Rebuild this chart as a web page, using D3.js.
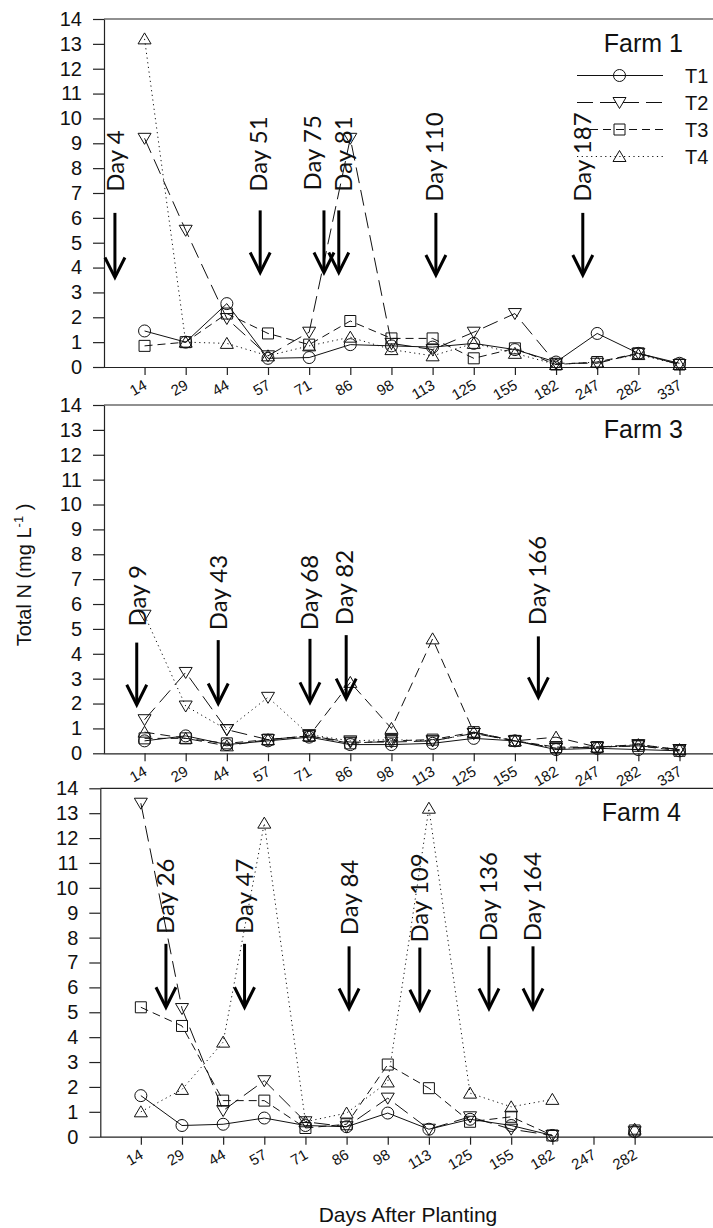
<!DOCTYPE html>
<html>
<head>
<meta charset="utf-8">
<script src="https://cdn.jsdelivr.net/npm/d3@7"></script>
<style>
  body { margin: 0; background: #fff; }
  svg { display: block; }
  text { fill: #111; }
</style>
</head>
<body>
<div id="chart"></div>
<script>
// Size of the whole figure
var svgWidth = 713;
var svgHeight = 1228;

// Categories (days after planting) and y tick labels
var days = ["14", "29", "44", "57", "71", "86", "98", "113", "125", "155", "182", "247", "282", "337"];
var daysFarm4 = ["14", "29", "44", "57", "71", "86", "98", "113", "125", "155", "182", "247", "282"];
var yTicks = [0, 1, 2, 3, 4, 5, 6, 7, 8, 9, 10, 11, 12, 13, 14];

// Farm 1 values (mg/L)
var farm1T1 = [1.45, 1.0, 2.55, 0.35, 0.38, 0.9, 0.85, 0.8, 0.95, 0.7, 0.2, 1.35, 0.55, 0.15];
var farm1T2 = [9.2, 5.5, 1.95, 0.45, 1.4, 9.2, 0.95, 0.7, 1.4, 2.15, 0.15, 0.15, 0.55, 0.1];
var farm1T3 = [0.85, 1.0, 2.15, 1.35, 0.9, 1.85, 1.15, 1.15, 0.35, 0.75, 0.1, 0.2, 0.55, 0.1];
var farm1T4 = [13.2, 1.0, 0.95, 0.45, 0.85, 1.2, 0.7, 0.45, 0.95, 0.55, 0.1, 0.2, 0.5, 0.1];

// Farm 3 values (the plot shows an extra dotted series drawn with down triangles)
var farm3T1 = [0.5, 0.7, 0.35, 0.5, 0.65, 0.35, 0.35, 0.4, 0.6, 0.5, 0.15, 0.2, 0.15, 0.1];
var farm3T2 = [1.35, 3.25, 0.95, 0.55, 0.7, 0.45, 0.45, 0.5, 0.8, 0.5, 0.2, 0.25, 0.3, 0.15];
var farm3T3 = [0.6, 0.6, 0.4, 0.55, 0.7, 0.4, 0.5, 0.55, 0.85, 0.5, 0.25, 0.25, 0.3, 0.1];
var farm3T4 = [0.85, 0.6, 0.3, 0.55, 0.7, 2.85, 1.0, 4.6, 0.85, 0.5, 0.65, 0.25, 0.35, 0.15];
var farm3Extra = [5.55, 1.9, 0.95, 2.25, 0.75, 0.5, 0.55, 0.5, 0.8, 0.5, 0.2, 0.25, 0.35, 0.15];

// Farm 4 values (no sample on day 247)
var farm4T1 = [1.65, 0.45, 0.5, 0.75, 0.45, 0.4, 0.95, 0.3, 0.7, 0.45, 0.05, null, 0.2];
var farm4T2 = [13.4, 5.15, 1.05, 2.25, 0.6, 0.4, 1.55, 0.3, 0.8, 0.3, 0.05, null, 0.2];
var farm4T3 = [5.2, 4.45, 1.45, 1.45, 0.35, 0.5, 2.9, 1.95, 0.6, 0.8, 0.05, null, 0.25];
var farm4T4 = [1.0, 1.9, 3.8, 12.6, 0.6, 0.95, 2.2, 13.2, 1.75, 1.2, 1.5, null, 0.3];

// Arrow annotations: label, arrow position (category units), arrow top, tip,
// label position (category units) and label start value
var farm1Arrows = ["Day 4", "Day 51", "Day 75", "Day 81", "Day 110", "Day 187"];
var farm1ArrowAt = [-0.72, 2.81, 4.36, 4.72, 7.08, 10.65];
var farm1ArrowTop = [6.2, 6.3, 6.3, 6.3, 6.2, 6.2];
var farm1ArrowTip = [3.6, 3.8, 3.8, 3.8, 3.7, 3.7];
var farm1LabelAt = [-0.7, 2.77, 4.09, 4.84, 7.06, 10.65];
var farm1LabelBase = [7.05, 7.05, 7.1, 7.05, 6.65, 6.65];

var farm3Arrows = ["Day 9", "Day 43", "Day 68", "Day 82", "Day 166"];
var farm3ArrowAt = [-0.19, 1.79, 4.02, 4.9, 9.57];
var farm3ArrowTop = [4.45, 4.55, 4.6, 4.75, 4.7];
var farm3ArrowTip = [1.95, 2.0, 2.05, 2.2, 2.25];
var farm3LabelAt = [-0.18, 1.80, 4.0, 4.87, 9.56];
var farm3LabelBase = [5.1, 4.95, 4.95, 5.15, 5.15];

var farm4Arrows = ["Day 26", "Day 47", "Day 84", "Day 109", "Day 136", "Day 164"];
var farm4ArrowAt = [0.61, 2.52, 5.06, 6.78, 8.46, 9.53];
var farm4ArrowTop = [7.75, 7.75, 7.65, 7.6, 7.65, 7.65];
var farm4ArrowTip = [5.2, 5.2, 5.15, 5.1, 5.15, 5.15];
var farm4LabelAt = [0.61, 2.52, 5.07, 6.78, 8.46, 9.53];
var farm4LabelBase = [8.15, 8.15, 8.1, 7.8, 7.85, 7.85];

// Series styles
var legendNames = ["T1", "T2", "T3", "T4"];
var styles = {
  T1: { shape: "circle", dash: null },
  T2: { shape: "down", dash: "16,7" },
  T3: { shape: "square", dash: "8,5" },
  T4: { shape: "up", dash: "1.2,3.5" },
  T4b: { shape: "up", dash: "10,6" },
  X: { shape: "down", dash: "1.2,3.5" }
};

var panels = [
  { label: "Farm 1", cats: days, left: 104, top: 19, bottom: 367, labelX: 683, legend: true,
    series: [["T1", farm1T1], ["T2", farm1T2], ["T3", farm1T3], ["T4", farm1T4]],
    arrows: [farm1Arrows, farm1ArrowAt, farm1ArrowTop, farm1ArrowTip, farm1LabelAt, farm1LabelBase] },
  { label: "Farm 3", cats: days, left: 104, top: 405, bottom: 753.3, labelX: 683, legend: false,
    series: [["T1", farm3T1], ["T2", farm3T2], ["T3", farm3T3], ["T4b", farm3T4], ["X", farm3Extra]],
    arrows: [farm3Arrows, farm3ArrowAt, farm3ArrowTop, farm3ArrowTip, farm3LabelAt, farm3LabelBase] },
  { label: "Farm 4", cats: daysFarm4, left: 100.3, top: 788.3, bottom: 1136.7, labelX: 681, legend: false,
    series: [["T1", farm4T1], ["T2", farm4T2], ["T3", farm4T3], ["T4", farm4T4]],
    arrows: [farm4Arrows, farm4ArrowAt, farm4ArrowTop, farm4ArrowTip, farm4LabelAt, farm4LabelBase] }
];

var step = 41.15;

function shapePath(shape) {
  if (shape === "circle") return "M6,0A6,6 0 1,1 -6,0A6,6 0 1,1 6,0Z";
  if (shape === "square") return "M-5.5,-5.5H5.5V5.5H-5.5Z";
  if (shape === "up") return "M0,-6L6.5,5H-6.5Z";
  return "M0,6L6.5,-5H-6.5Z";
}

var svg = d3.select("#chart")
  .append("svg")
  .attr("width", svgWidth)
  .attr("height", svgHeight);

panels.forEach(function(p) {
  var x = d3.scaleLinear().domain([-1, 14]).range([p.left - 0.6, p.left - 0.6 + 15 * step]);
  var y = d3.scaleLinear().domain([0, 14]).range([p.bottom, p.top]);
  var g = svg.append("g");

  // top border
  g.append("line")
    .attr("x1", p.left).attr("x2", svgWidth + 5)
    .attr("y1", p.top).attr("y2", p.top)
    .attr("stroke", "#222").attr("stroke-width", 1.2);

  // y axis
  var yAxis = g.append("g")
    .attr("transform", `translate(${p.left},0)`)
    .call(d3.axisLeft(y).tickValues(yTicks).tickSize(11).tickPadding(11).tickSizeOuter(0));
  yAxis.select(".domain").attr("stroke", "#222").attr("stroke-width", 1.2);
  yAxis.selectAll(".tick line").attr("stroke", "#222").attr("stroke-width", 1.2);
  yAxis.selectAll("text")
    .attr("font-family", "Arial, 'Liberation Sans', sans-serif")
    .attr("font-size", 20)
    .attr("fill", "#111");

  // x axis
  var xAxis = g.append("g")
    .attr("transform", `translate(0,${p.bottom})`)
    .call(d3.axisBottom(x)
      .tickValues(d3.range(p.cats.length))
      .tickFormat(function(i) { return p.cats[i]; })
      .tickSize(8).tickSizeOuter(0));
  xAxis.select(".domain").attr("stroke", "#222").attr("stroke-width", 1.2);
  xAxis.selectAll(".tick line").attr("stroke", "#222").attr("stroke-width", 1.2);
  xAxis.selectAll("text")
    .attr("font-family", "Arial, 'Liberation Sans', sans-serif")
    .attr("font-size", 15)
    .attr("fill", "#1a1a2a")
    .attr("x", 3).attr("y", 21).attr("dy", null)
    .attr("text-anchor", "end")
    .attr("transform", "rotate(-30,3,21)");

  // series
  p.series.forEach(function(s) {
    var st = styles[s[0]];
    var vals = s[1];
    var line = d3.line()
      .defined(function(d) { return d != null; })
      .x(function(d, i) { return x(i); })
      .y(function(d) { return y(d); });
    g.append("path")
      .attr("d", line(vals))
      .attr("fill", "none")
      .attr("stroke", "#111")
      .attr("stroke-width", 1)
      .attr("stroke-dasharray", st.dash);
    g.selectAll(null)
      .data(vals.map(function(v, i) { return [i, v]; }).filter(function(d) { return d[1] != null; }))
      .enter()
      .append("path")
      .attr("d", shapePath(st.shape))
      .attr("transform", function(d) { return `translate(${x(d[0])},${y(d[1])})`; })
      .attr("fill", "none")
      .attr("stroke", "#111")
      .attr("stroke-width", 1);
  });

  // arrows with rotated day labels
  var a = p.arrows;
  a[0].forEach(function(txt, k) {
    var ax = x(a[1][k]);
    var yTop = y(a[2][k]);
    var yTip = y(a[3][k]);
    g.append("line")
      .attr("x1", ax).attr("x2", ax)
      .attr("y1", yTop).attr("y2", yTip - 1)
      .attr("stroke", "#000").attr("stroke-width", 3);
    g.append("path")
      .attr("d", `M${ax - 10},${yTip - 20}L${ax},${yTip}L${ax + 10},${yTip - 20}`)
      .attr("fill", "none")
      .attr("stroke", "#000").attr("stroke-width", 3);
    var lx = x(a[4][k]);
    var ly = y(a[5][k]);
    g.append("text")
      .attr("transform", `translate(${lx},${ly}) rotate(-90)`)
      .attr("dy", "0.35em")
      .attr("font-family", "Lato, 'Open Sans', sans-serif")
      .attr("font-size", 24)
      .attr("fill", "#000")
      .text(txt);
  });

  // panel label
  g.append("text")
    .attr("x", p.labelX).attr("y", p.top + 33)
    .attr("text-anchor", "end")
    .attr("font-family", "Arial, 'Liberation Sans', sans-serif")
    .attr("font-size", 25)
    .text(p.label);

  // legend
  if (p.legend) {
    legendNames.forEach(function(name, k) {
      var st = styles[name];
      var ly = p.top + 56.5 + k * 27;
      g.append("line")
        .attr("x1", 577).attr("x2", 663)
        .attr("y1", ly).attr("y2", ly)
        .attr("stroke", "#111").attr("stroke-width", 1)
        .attr("stroke-dasharray", st.dash);
      g.append("path")
        .attr("d", shapePath(st.shape))
        .attr("transform", `translate(619.5,${ly})`)
        .attr("fill", "none").attr("stroke", "#111").attr("stroke-width", 1);
      g.append("text")
        .attr("x", 685).attr("y", ly + 7)
        .attr("font-family", "Arial, 'Liberation Sans', sans-serif")
        .attr("font-size", 20)
        .text(name);
    });
  }
});

// y axis title
var yTitle = svg.append("text")
  .attr("transform", "translate(31,575) rotate(-90)")
  .attr("text-anchor", "middle")
  .attr("font-family", "Arial, 'Liberation Sans', sans-serif")
  .attr("font-size", 20);
yTitle.append("tspan").text("Total N (mg L");
yTitle.append("tspan").attr("font-size", 13).attr("dy", -8).text("-1");
yTitle.append("tspan").attr("dy", 8).text(" )");

// x axis title
svg.append("text")
  .attr("x", 408).attr("y", 1222)
  .attr("text-anchor", "middle")
  .attr("font-family", "Arial, 'Liberation Sans', sans-serif")
  .attr("font-size", 21)
  .text("Days After Planting");
</script>
</body>
</html>
